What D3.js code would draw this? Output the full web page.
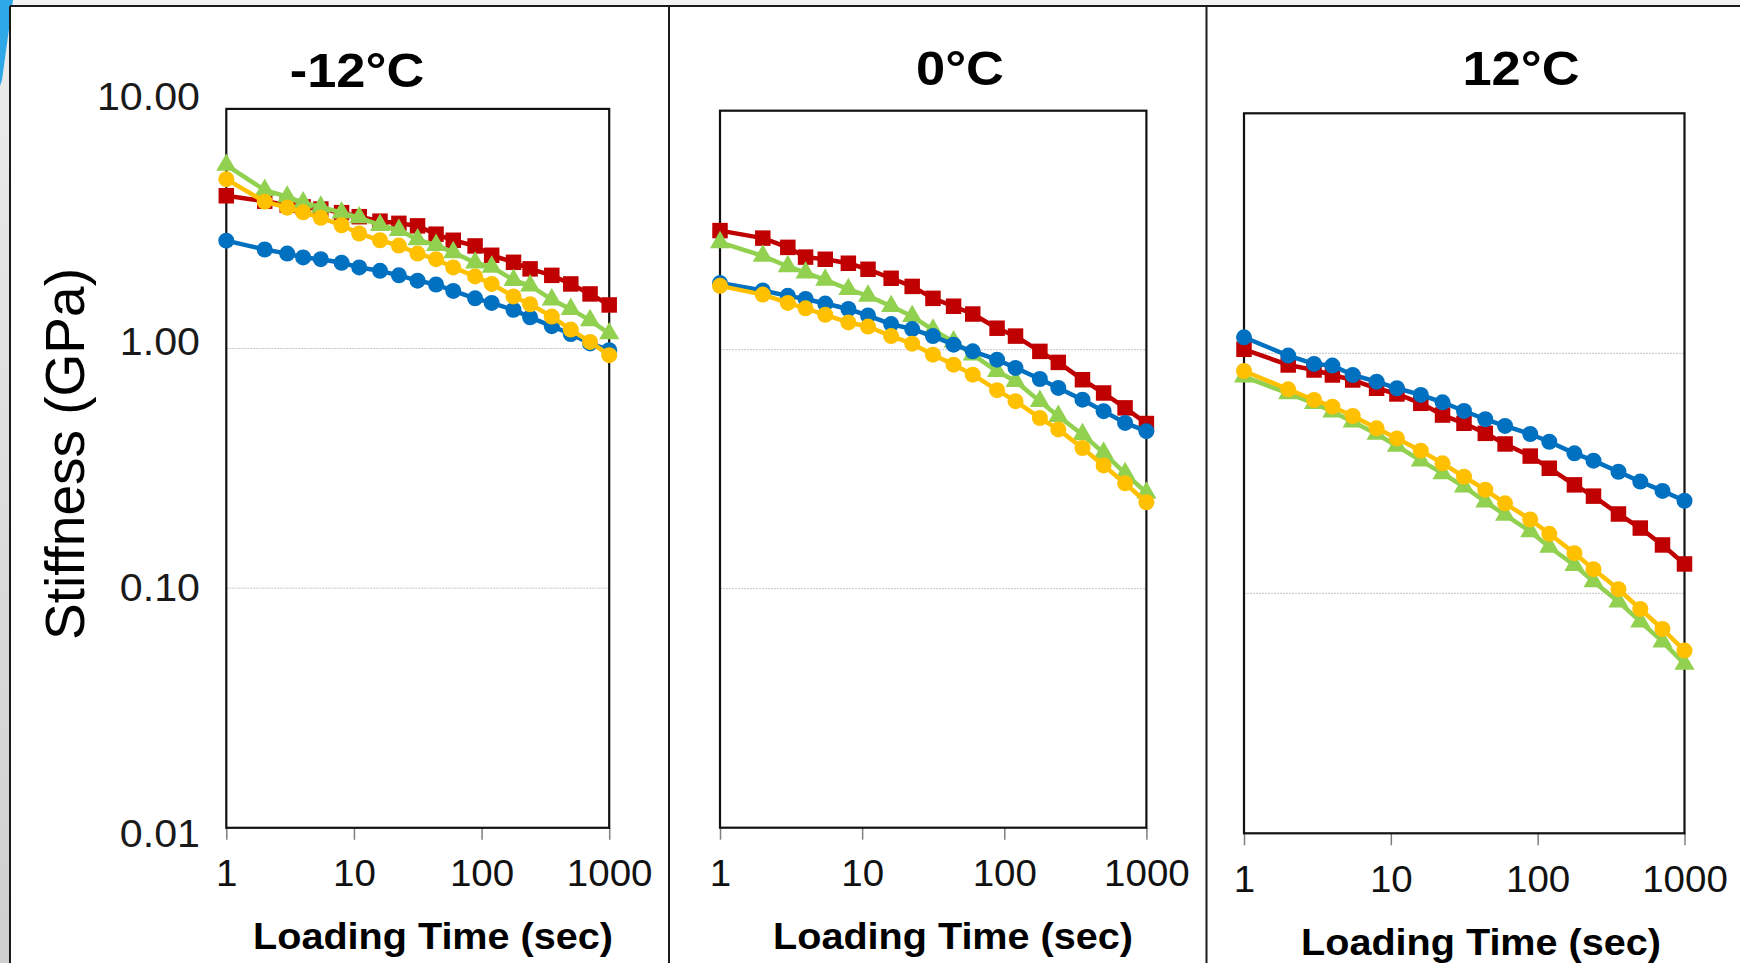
<!DOCTYPE html>
<html>
<head>
<meta charset="utf-8">
<script src="https://cdn.jsdelivr.net/npm/d3@7"></script>
<style>
  html, body { margin: 0; padding: 0; background: #f2f2f2; }
  svg { display: block; }
  text { font-family: "Liberation Sans", Arial, sans-serif; }
</style>
</head>
<body>
<svg id="chart" width="1740" height="963"></svg>
<script>
// ---------------- DATA ----------------
const loadingTimes = [1, 2, 3, 4, 5.5, 8, 11, 16, 22.5, 31.5, 44, 60, 89, 120, 178, 240, 355, 500, 708, 1000];

const panelTitles = ["-12°C", "0°C", "12°C"];
const xTickValues = [1, 10, 100, 1000];
const xTickLabels = ["1", "10", "100", "1000"];
const yTickValues = [10, 1, 0.1, 0.01];
const yTickLabels = ["10.00", "1.00", "0.10", "0.01"];
const xAxisTitle = "Loading Time (sec)";
const yAxisTitle = "Stiffness (GPa)";

// -12°C
const m12Red    = [4.34, 4.12, 3.97, 3.90, 3.82, 3.69, 3.55, 3.40, 3.33, 3.25, 3.00, 2.83, 2.68, 2.45, 2.29, 2.15, 2.02, 1.86, 1.69, 1.52];
const m12Green  = [5.83, 4.58, 4.30, 4.06, 3.90, 3.69, 3.52, 3.27, 3.12, 2.85, 2.70, 2.52, 2.28, 2.19, 1.93, 1.83, 1.60, 1.46, 1.31, 1.155];
const m12Blue   = [2.82, 2.59, 2.49, 2.40, 2.36, 2.28, 2.18, 2.11, 2.02, 1.92, 1.85, 1.74, 1.62, 1.55, 1.45, 1.35, 1.24, 1.15, 1.05, 0.984];
const m12Yellow = [5.09, 4.10, 3.87, 3.70, 3.51, 3.27, 3.02, 2.83, 2.69, 2.49, 2.36, 2.18, 2.00, 1.86, 1.65, 1.53, 1.36, 1.20, 1.066, 0.938];

// 0°C
const z0Red    = [3.15, 2.93, 2.68, 2.44, 2.39, 2.30, 2.17, 1.99, 1.84, 1.64, 1.52, 1.41, 1.23, 1.14, 0.984, 0.885, 0.749, 0.659, 0.571, 0.491];
const z0Green  = [2.81, 2.47, 2.23, 2.10, 1.96, 1.79, 1.68, 1.52, 1.38, 1.21, 1.08, 0.953, 0.812, 0.738, 0.609, 0.527, 0.442, 0.370, 0.304, 0.252];
const z0Blue   = [1.90, 1.77, 1.68, 1.63, 1.56, 1.48, 1.39, 1.28, 1.22, 1.14, 1.05, 0.984, 0.908, 0.839, 0.754, 0.692, 0.618, 0.553, 0.494, 0.456];
const z0Yellow = [1.85, 1.70, 1.57, 1.49, 1.40, 1.30, 1.25, 1.14, 1.06, 0.953, 0.866, 0.786, 0.677, 0.609, 0.518, 0.464, 0.388, 0.328, 0.276, 0.230];

// 12°C
const p12Red    = [1.039, 0.894, 0.852, 0.812, 0.774, 0.715, 0.677, 0.619, 0.553, 0.511, 0.464, 0.419, 0.373, 0.332, 0.283, 0.254, 0.214, 0.187, 0.159, 0.1325];
const p12Green  = [0.799, 0.681, 0.619, 0.571, 0.519, 0.461, 0.411, 0.357, 0.316, 0.278, 0.241, 0.212, 0.181, 0.156, 0.131, 0.112, 0.0923, 0.0762, 0.0629, 0.0508];
const p12Blue   = [1.166, 0.978, 0.903, 0.889, 0.812, 0.762, 0.715, 0.671, 0.625, 0.575, 0.531, 0.498, 0.461, 0.428, 0.383, 0.357, 0.321, 0.292, 0.267, 0.243];
const p12Yellow = [0.844, 0.708, 0.639, 0.599, 0.548, 0.487, 0.442, 0.393, 0.348, 0.306, 0.270, 0.237, 0.203, 0.177, 0.147, 0.126, 0.104, 0.086, 0.071, 0.0577];

// ---------------- STYLE / LAYOUT ----------------
const seriesStyle = {
  red:    { color: "#C00000", shape: "square" },
  green:  { color: "#92D050", shape: "triangle" },
  blue:   { color: "#0070C0", shape: "circle" },
  yellow: { color: "#FFC000", shape: "circle" }
};
const drawOrder = ["red", "green", "blue", "yellow"];

const panelData = [
  { red: m12Red, green: m12Green, blue: m12Blue, yellow: m12Yellow },
  { red: z0Red,  green: z0Green,  blue: z0Blue,  yellow: z0Yellow },
  { red: p12Red, green: p12Green, blue: p12Blue, yellow: p12Yellow }
];

const panelLayout = [
  { l: 226.3, r: 609.2,  t: 108.9, b: 827.8, titleX: 357,  titleY: 87, xTitleX: 433,  xTitleY: 949 },
  { l: 720.0, r: 1146.4, t: 110.7, b: 827.7, titleX: 960,  titleY: 85, xTitleX: 953,  xTitleY: 949 },
  { l: 1244,  r: 1684.5, t: 113.3, b: 833.3, titleX: 1521, titleY: 85, xTitleX: 1481, xTitleY: 955 }
];

const SX = 1.07; // horizontal stretch of the original picture's text
const FONT = "'Liberation Sans', Arial, sans-serif";

// ---------------- DRAW ----------------
const svg = d3.select("#chart");

const defs = svg.append("defs");
const grad = defs.append("linearGradient").attr("id", "leftStrip").attr("x1", 0).attr("y1", 0).attr("x2", 0).attr("y2", 1);
grad.append("stop").attr("offset", "0%").attr("stop-color", "#ececec");
grad.append("stop").attr("offset", "100%").attr("stop-color", "#cfcfcf");

svg.append("rect").attr("x", 0).attr("y", 0).attr("width", 1740).attr("height", 963).attr("fill", "#f2f2f2");
svg.append("rect").attr("x", 0).attr("y", 0).attr("width", 10).attr("height", 963).attr("fill", "url(#leftStrip)");
svg.append("path").attr("d", "M0,0 L13,0 L2,80 L0,86 Z").attr("fill", "#2EA8E6");
svg.append("rect").attr("x", 10).attr("y", 6).attr("width", 1730).attr("height", 957).attr("fill", "#ffffff");

const frame = svg.append("g").attr("stroke", "#1a1a1a").attr("stroke-width", 2);
frame.append("line").attr("x1", 10).attr("x2", 1740).attr("y1", 6).attr("y2", 6);
frame.append("line").attr("x1", 10).attr("x2", 10).attr("y1", 6).attr("y2", 963);
frame.append("line").attr("x1", 669).attr("x2", 669).attr("y1", 6).attr("y2", 963);
frame.append("line").attr("x1", 1206.5).attr("x2", 1206.5).attr("y1", 6).attr("y2", 963);

panelLayout.forEach((L, pi) => {
  const g = svg.append("g");
  const x = d3.scaleLog().domain([1, 1000]).range([L.l, L.r]);
  const y = d3.scaleLog().domain([0.01, 10]).range([L.b, L.t]);

  // gridlines
  g.append("g").selectAll("line").data([1, 0.1]).join("line")
    .attr("x1", L.l).attr("x2", L.r)
    .attr("y1", d => y(d)).attr("y2", d => y(d))
    .attr("stroke", "#c4c4c4").attr("stroke-width", 1).attr("stroke-dasharray", "2,1");

  // x axis
  const xa = g.append("g").attr("transform", `translate(0,${L.b})`)
    .call(d3.axisBottom(x).tickValues(xTickValues)
      .tickFormat((d, i) => xTickLabels[i]).tickSize(12).tickPadding(21));
  xa.select(".domain").remove();
  xa.selectAll(".tick line").attr("stroke", "#7f7f7f").attr("stroke-width", 1.5);
  xa.selectAll(".tick text")
    .attr("font-family", FONT).attr("font-size", 36).attr("fill", "#111")
    .attr("transform", `scale(${SX},1)`);

  // plot box
  g.append("rect").attr("x", L.l).attr("y", L.t)
    .attr("width", L.r - L.l).attr("height", L.b - L.t)
    .attr("fill", "none").attr("stroke", "#111").attr("stroke-width", 2.2);

  // y axis labels (only first panel)
  if (pi === 0) {
    const yl = d3.scaleLog().domain([0.01, 10]).range([834, 97]);
    const ya = g.append("g").attr("transform", "translate(200,0)")
      .call(d3.axisLeft(yl).tickValues(yTickValues)
        .tickFormat((d, i) => yTickLabels[i]).tickSize(0).tickPadding(0));
    ya.select(".domain").remove();
    ya.selectAll(".tick text")
      .attr("font-family", FONT).attr("font-size", 38.5).attr("fill", "#1a1a1a")
      .attr("x", 0)
      .attr("transform", `scale(${SX},1)`);

    svg.append("text")
      .attr("transform", "translate(84,454) rotate(-90)")
      .attr("text-anchor", "middle")
      .attr("font-family", FONT).attr("font-size", 55).attr("fill", "#000")
      .text(yAxisTitle);
  }

  // panel title
  svg.append("text")
    .attr("transform", `translate(${L.titleX},${L.titleY}) scale(${SX},1)`)
    .attr("text-anchor", "middle")
    .attr("font-family", FONT).attr("font-weight", "bold").attr("font-size", 49).attr("fill", "#000")
    .text(panelTitles[pi]);

  // x axis title
  svg.append("text")
    .attr("transform", `translate(${L.xTitleX},${L.xTitleY}) scale(${SX},1)`)
    .attr("text-anchor", "middle")
    .attr("font-family", FONT).attr("font-weight", "bold").attr("font-size", 37).attr("fill", "#000")
    .text(xAxisTitle);

  // series
  const line = d3.line().x(d => x(d[0])).y(d => y(d[1]));
  drawOrder.forEach(key => {
    const st = seriesStyle[key];
    const pts = loadingTimes.map((t, i) => [t, panelData[pi][key][i]]);
    const sg = g.append("g");
    sg.append("path").datum(pts).attr("d", line)
      .attr("fill", "none").attr("stroke", st.color).attr("stroke-width", 4.5)
      .attr("stroke-linejoin", "round");
    if (st.shape === "circle") {
      sg.selectAll("circle").data(pts).join("circle")
        .attr("cx", d => x(d[0])).attr("cy", d => y(d[1])).attr("r", 8)
        .attr("fill", st.color);
    } else {
      const sym = d3.symbol()
        .type(st.shape === "square" ? d3.symbolSquare : d3.symbolTriangle)
        .size(st.shape === "square" ? 240 : 175);
      sg.selectAll("path.m").data(pts).join("path").attr("class", "m")
        .attr("d", sym)
        .attr("transform", d => `translate(${x(d[0])},${y(d[1])})`)
        .attr("fill", st.color);
    }
  });
});
</script>
</body>
</html>
